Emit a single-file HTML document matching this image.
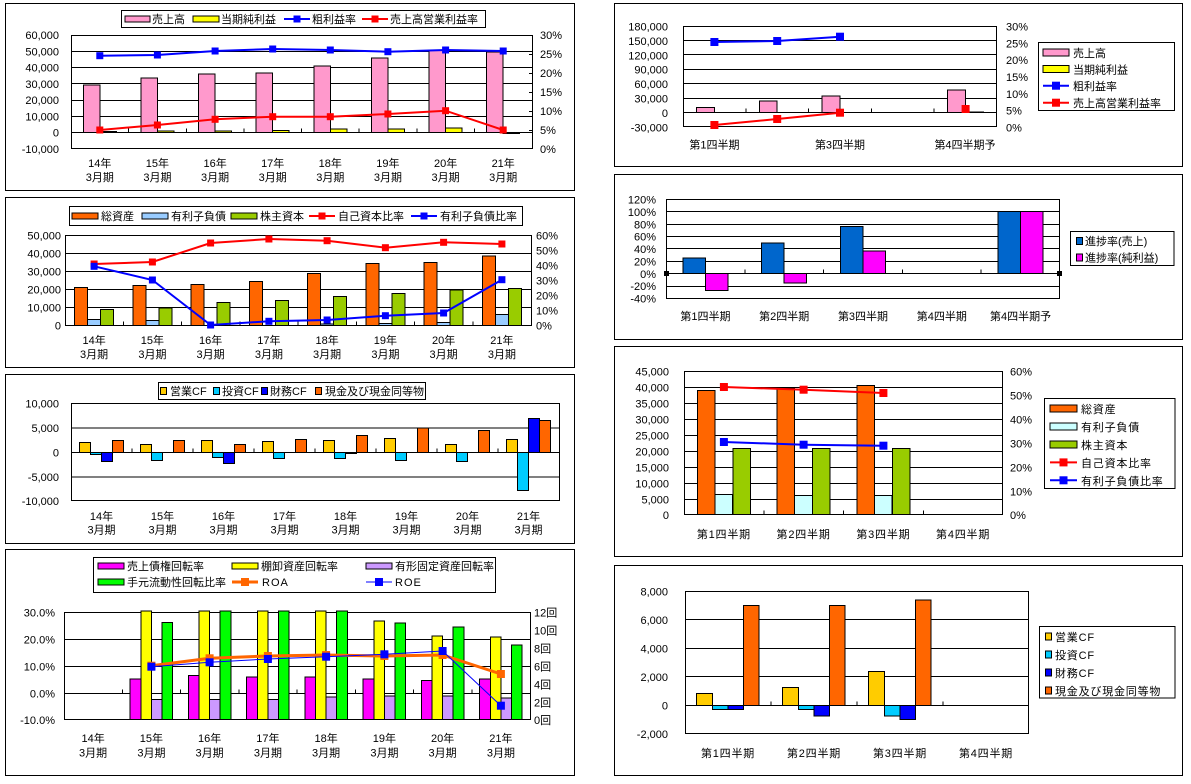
<!DOCTYPE html>
<html><head><meta charset="utf-8">
<style>
html,body{margin:0;padding:0;background:#fff;}
svg{display:block;}
text{font-family:"Liberation Sans","Noto Sans CJK JP",sans-serif;font-size:11px;fill:#000;}
.c{text-anchor:middle;}
.e{text-anchor:end;}
.f12{font-size:12px;}
.ls{letter-spacing:0.8px;}
.bars rect{stroke:#000;stroke-width:1;shape-rendering:crispEdges;}
.g{stroke:#000;stroke-width:1;fill:none;shape-rendering:crispEdges;}
.box{fill:#fff;stroke:#000;stroke-width:1;shape-rendering:crispEdges;}
.frame{fill:none;stroke:#000;stroke-width:1;shape-rendering:crispEdges;}
</style></head><body>
<svg width="1191" height="784" viewBox="0 0 1191 784" xmlns="http://www.w3.org/2000/svg">
<rect x="0" y="0" width="1191" height="784" fill="#fff"/>

<!-- ================= L1 ================= -->
<rect class="frame" x="5.5" y="3.5" width="569" height="187"/>
<rect class="box" x="121.5" y="10.5" width="364" height="17"/>
<g class="bars">
<rect x="125" y="16" width="25" height="6" fill="#FF99CC"/>
<rect x="193" y="16" width="26" height="6" fill="#FFFF00"/>
</g>
<text x="152" y="23">売上高</text>
<text x="221" y="23">当期純利益</text>
<line x1="284" y1="19" x2="310" y2="19" stroke="#0000FF" stroke-width="2"/>
<rect x="293.5" y="15.5" width="7" height="7" fill="#0000FF"/>
<text x="312" y="23">粗利益率</text>
<line x1="362" y1="19" x2="388" y2="19" stroke="#FF0000" stroke-width="2"/>
<rect x="371.5" y="15.5" width="7" height="7" fill="#FF0000"/>
<text x="390" y="23">売上高営業利益率</text>

<rect class="box" x="71.5" y="35.5" width="461" height="113"/>
<path class="g" d="M71 51.5H532M71 67.5H532M71 83.5H532M71 100.5H532M71 116.5H532M71 132.5H532"/>
<path class="g" d="M128.6 132.5V128.5M186.3 132.5V128.5M243.9 132.5V128.5M301.5 132.5V128.5M359.1 132.5V128.5M416.8 132.5V128.5M474.4 132.5V128.5M529 54.5H532M529 73.5H532M529 92.5H532M529 111.5H532M529 130.5H532"/>
<g class="bars" fill="#FF99CC">
<rect x="83.3" y="84.8" width="16.5" height="47.7"/>
<rect x="140.9" y="78.1" width="16.5" height="54.4"/>
<rect x="198.6" y="74.2" width="16.5" height="58.3"/>
<rect x="256.2" y="73.2" width="16.5" height="59.3"/>
<rect x="313.8" y="66.2" width="16.5" height="66.3"/>
<rect x="371.4" y="58.2" width="16.5" height="74.3"/>
<rect x="429.1" y="49.9" width="16.5" height="82.6"/>
<rect x="486.7" y="52.2" width="16.5" height="80.3"/>
</g>
<g class="bars" fill="#FFFF00">
<rect x="99.8" y="131.5" width="16.5" height="1"/>
<rect x="157.4" y="131.2" width="16.5" height="1.3"/>
<rect x="215.1" y="131.2" width="16.5" height="1.3"/>
<rect x="272.7" y="130.5" width="16.5" height="2"/>
<rect x="330.3" y="129.2" width="16.5" height="3.3"/>
<rect x="387.9" y="129.2" width="16.5" height="3.3"/>
<rect x="445.6" y="128" width="16.5" height="4.5"/>
<rect x="503.2" y="132.5" width="16.5" height="1"/>
</g>
<polyline fill="none" stroke="#0000FF" stroke-width="2" points="99.8,55.7 157.4,55 215.1,51 272.7,49 330.3,50 387.9,51.7 445.6,50 503.2,51"/>
<g fill="#0000FF">
<rect x="96.3" y="52.2" width="7" height="7"/><rect x="153.9" y="51.5" width="7" height="7"/><rect x="211.6" y="47.5" width="7" height="7"/><rect x="269.2" y="45.5" width="7" height="7"/><rect x="326.8" y="46.5" width="7" height="7"/><rect x="384.4" y="48.2" width="7" height="7"/><rect x="442.1" y="46.5" width="7" height="7"/><rect x="499.7" y="47.5" width="7" height="7"/>
</g>
<polyline fill="none" stroke="#FF0000" stroke-width="2" points="99.8,130 157.4,125 215.1,119.3 272.7,116.7 330.3,116.7 387.9,114 445.6,110.7 503.2,130"/>
<g fill="#FF0000">
<rect x="96.3" y="126.5" width="7" height="7"/><rect x="153.9" y="121.5" width="7" height="7"/><rect x="211.6" y="115.8" width="7" height="7"/><rect x="269.2" y="113.2" width="7" height="7"/><rect x="326.8" y="113.2" width="7" height="7"/><rect x="384.4" y="110.5" width="7" height="7"/><rect x="442.1" y="107.2" width="7" height="7"/><rect x="499.7" y="126.5" width="7" height="7"/>
</g>
<g class="e">
<text x="59" y="39">60,000</text><text x="59" y="55.5">50,000</text><text x="59" y="71.5">40,000</text><text x="59" y="88">30,000</text><text x="59" y="104">20,000</text><text x="59" y="120.5">10,000</text><text x="59" y="136.5">0</text><text x="59" y="153">-10,000</text>
</g>
<text x="540" y="39">30%</text><text x="540" y="58">25%</text><text x="540" y="77">20%</text><text x="540" y="96">15%</text><text x="540" y="115">10%</text><text x="540" y="134">5%</text><text x="540" y="153">0%</text>
<g class="c">
<text x="99.8" y="167">14年</text><text x="157.4" y="167">15年</text><text x="215.1" y="167">16年</text><text x="272.7" y="167">17年</text><text x="330.3" y="167">18年</text><text x="387.9" y="167">19年</text><text x="445.6" y="167">20年</text><text x="503.2" y="167">21年</text>
<text x="99.8" y="181">3月期</text><text x="157.4" y="181">3月期</text><text x="215.1" y="181">3月期</text><text x="272.7" y="181">3月期</text><text x="330.3" y="181">3月期</text><text x="387.9" y="181">3月期</text><text x="445.6" y="181">3月期</text><text x="503.2" y="181">3月期</text>
</g>

<!-- ================= L2 ================= -->
<rect class="frame" x="5.5" y="197.5" width="569" height="170"/>
<rect class="box" x="69.5" y="206.5" width="453" height="19"/>
<g class="bars">
<rect x="72" y="213" width="26" height="6" fill="#FF6600"/>
<rect x="142" y="213" width="26" height="6" fill="#99CCFF"/>
<rect x="231" y="213" width="26" height="6" fill="#99CC00"/>
</g>
<text x="101" y="220">総資産</text>
<text x="171" y="220">有利子負債</text>
<text x="260" y="220">株主資本</text>
<line x1="309" y1="216" x2="335" y2="216" stroke="#FF0000" stroke-width="2"/>
<rect x="318.5" y="212.5" width="7" height="7" fill="#FF0000"/>
<text x="338" y="220">自己資本比率</text>
<line x1="411" y1="216" x2="437" y2="216" stroke="#0000FF" stroke-width="2"/>
<rect x="420.5" y="212.5" width="7" height="7" fill="#0000FF"/>
<text x="440" y="220">有利子負債比率</text>

<rect class="box" x="65.5" y="235.5" width="466" height="90"/>
<path class="g" d="M65 253.5H531M65 271.5H531M65 289.5H531M65 307.5H531M65 325.5H531"/>
<path class="g" d="M123.3 325.5V321.5M181.5 325.5V321.5M239.8 325.5V321.5M298 325.5V321.5M356.3 325.5V321.5M414.5 325.5V321.5M472.8 325.5V321.5"/>
<g class="bars" fill="#FF6600">
<rect x="74.7" y="287.5" width="12.9" height="38"/>
<rect x="133" y="285.5" width="12.9" height="40"/>
<rect x="191.2" y="284.3" width="12.9" height="41.2"/>
<rect x="249.5" y="281.6" width="12.9" height="43.9"/>
<rect x="307.7" y="273.3" width="12.9" height="52.2"/>
<rect x="366" y="263.6" width="12.9" height="61.9"/>
<rect x="424.2" y="262.5" width="12.9" height="63"/>
<rect x="482.5" y="256.2" width="12.9" height="69.3"/>
</g>
<g class="bars" fill="#99CCFF">
<rect x="87.6" y="319.6" width="12.9" height="5.9"/>
<rect x="145.9" y="320.3" width="12.9" height="5.2"/>
<rect x="320.6" y="324.2" width="12.9" height="1.3"/>
<rect x="378.9" y="323.7" width="12.9" height="1.8"/>
<rect x="437.1" y="322.6" width="12.9" height="2.9"/>
<rect x="495.4" y="314.5" width="12.9" height="11"/>
</g>
<g class="bars" fill="#99CC00">
<rect x="100.6" y="309.5" width="12.9" height="16"/>
<rect x="158.9" y="308.2" width="12.9" height="17.3"/>
<rect x="217.1" y="302.3" width="12.9" height="23.2"/>
<rect x="275.4" y="300.3" width="12.9" height="25.2"/>
<rect x="333.6" y="296.5" width="12.9" height="29"/>
<rect x="391.9" y="293.3" width="12.9" height="32.2"/>
<rect x="450.1" y="290.2" width="12.9" height="35.3"/>
<rect x="508.4" y="288.6" width="12.9" height="36.9"/>
</g>
<polyline fill="none" stroke="#FF0000" stroke-width="2" points="94.1,264 152.4,262 210.6,243 268.9,239 327.1,240.7 385.4,247.7 443.6,242.3 501.9,244"/>
<g fill="#FF0000">
<rect x="90.6" y="260.5" width="7" height="7"/><rect x="148.9" y="258.5" width="7" height="7"/><rect x="207.1" y="239.5" width="7" height="7"/><rect x="265.4" y="235.5" width="7" height="7"/><rect x="323.6" y="237.2" width="7" height="7"/><rect x="381.9" y="244.2" width="7" height="7"/><rect x="440.1" y="238.8" width="7" height="7"/><rect x="498.4" y="240.5" width="7" height="7"/>
</g>
<polyline fill="none" stroke="#0000FF" stroke-width="2" points="94.1,266.3 152.4,280 210.6,325 268.9,321.3 327.1,320 385.4,315.7 443.6,313 501.9,279.7"/>
<g fill="#0000FF">
<rect x="90.6" y="262.8" width="7" height="7"/><rect x="148.9" y="276.5" width="7" height="7"/><rect x="207.1" y="321.5" width="7" height="7"/><rect x="265.4" y="317.8" width="7" height="7"/><rect x="323.6" y="316.5" width="7" height="7"/><rect x="381.9" y="312.2" width="7" height="7"/><rect x="440.1" y="309.5" width="7" height="7"/><rect x="498.4" y="276.2" width="7" height="7"/>
</g>
<g class="e">
<text x="61" y="239.5">50,000</text><text x="61" y="257.5">40,000</text><text x="61" y="275.5">30,000</text><text x="61" y="293.5">20,000</text><text x="61" y="311.5">10,000</text><text x="61" y="329.5">0</text>
</g>
<text x="536" y="239.5">60%</text><text x="536" y="254.5">50%</text><text x="536" y="269.5">40%</text><text x="536" y="284.5">30%</text><text x="536" y="299.5">20%</text><text x="536" y="314.5">10%</text><text x="536" y="329.5">0%</text>
<g class="c">
<text x="94.1" y="344">14年</text><text x="152.4" y="344">15年</text><text x="210.6" y="344">16年</text><text x="268.9" y="344">17年</text><text x="327.1" y="344">18年</text><text x="385.4" y="344">19年</text><text x="443.6" y="344">20年</text><text x="501.9" y="344">21年</text>
<text x="94.1" y="358">3月期</text><text x="152.4" y="358">3月期</text><text x="210.6" y="358">3月期</text><text x="268.9" y="358">3月期</text><text x="327.1" y="358">3月期</text><text x="385.4" y="358">3月期</text><text x="443.6" y="358">3月期</text><text x="501.9" y="358">3月期</text>
</g>

<!-- ================= L3 ================= -->
<rect class="frame" x="5.5" y="374.5" width="569" height="169"/>
<rect class="box" x="158.5" y="382.5" width="267" height="17"/>
<g class="bars">
<rect x="160.5" y="387.5" width="6" height="7" fill="#FFCC00"/>
<rect x="213.5" y="387.5" width="6" height="7" fill="#00CCFF"/>
<rect x="261.5" y="387.5" width="6" height="7" fill="#0000FF"/>
<rect x="315.5" y="387.5" width="6" height="7" fill="#FF6600"/>
</g>
<text x="170" y="395">営業CF</text>
<text x="222" y="395">投資CF</text>
<text x="270" y="395">財務CF</text>
<text x="325" y="395">現金及び現金同等物</text>

<rect class="box" x="71.5" y="403.5" width="488" height="97"/>
<path class="g" d="M71 428H559M71 452.5H559M71 477H559"/>
<path class="g" d="M132 452.5V448.5M193 452.5V448.5M254 452.5V448.5M315 452.5V448.5M376 452.5V448.5M437 452.5V448.5M498 452.5V448.5"/>
<g class="bars" fill="#FFCC00">
<rect x="79.3" y="442.55" width="11.1" height="9.95"/>
<rect x="140.3" y="444.66" width="11.1" height="7.84"/>
<rect x="201.3" y="440.54" width="11.1" height="11.96"/>
<rect x="262.3" y="441.52" width="11.1" height="10.98"/>
<rect x="323.3" y="440.54" width="11.1" height="11.96"/>
<rect x="384.3" y="438.53" width="11.1" height="13.97"/>
<rect x="445.3" y="444.66" width="11.1" height="7.84"/>
<rect x="506.3" y="439.56" width="11.1" height="12.94"/>
</g>
<g class="bars" fill="#00CCFF">
<rect x="90.4" y="452.5" width="11.1" height="1.96"/>
<rect x="151.4" y="452.5" width="11.1" height="7.99"/>
<rect x="212.4" y="452.5" width="11.1" height="5"/>
<rect x="273.4" y="452.5" width="11.1" height="5.98"/>
<rect x="334.4" y="452.5" width="11.1" height="5.98"/>
<rect x="395.4" y="452.5" width="11.1" height="7.99"/>
<rect x="456.4" y="452.5" width="11.1" height="8.97"/>
<rect x="517.4" y="452.5" width="11.1" height="37.83"/>
</g>
<g class="bars" fill="#0000FF">
<rect x="101.5" y="452.5" width="11.1" height="8.97"/>
<rect x="223.5" y="452.5" width="11.1" height="10.98"/>
<rect x="345.5" y="452.5" width="11.1" height="1"/>
<rect x="528.5" y="418.69" width="11.1" height="33.81"/>
</g>
<g class="bars" fill="#FF6600">
<rect x="112.6" y="440.54" width="11.1" height="11.96"/>
<rect x="173.6" y="440.54" width="11.1" height="11.96"/>
<rect x="234.6" y="444.51" width="11.1" height="7.99"/>
<rect x="295.6" y="439.56" width="11.1" height="12.94"/>
<rect x="356.6" y="435.6" width="11.1" height="16.9"/>
<rect x="417.6" y="428.24" width="11.1" height="24.26"/>
<rect x="478.6" y="430.6" width="11.1" height="21.9"/>
<rect x="539.6" y="420.65" width="11.1" height="31.85"/>
</g>
<g class="e">
<text x="59" y="407.5">10,000</text><text x="59" y="432">5,000</text><text x="59" y="456.5">0</text><text x="59" y="481">-5,000</text><text x="59" y="505">-10,000</text>
</g>
<g class="c">
<text x="101.5" y="520">14年</text><text x="162.5" y="520">15年</text><text x="223.5" y="520">16年</text><text x="284.5" y="520">17年</text><text x="345.5" y="520">18年</text><text x="406.5" y="520">19年</text><text x="467.5" y="520">20年</text><text x="528.5" y="520">21年</text>
<text x="101.5" y="533.5">3月期</text><text x="162.5" y="533.5">3月期</text><text x="223.5" y="533.5">3月期</text><text x="284.5" y="533.5">3月期</text><text x="345.5" y="533.5">3月期</text><text x="406.5" y="533.5">3月期</text><text x="467.5" y="533.5">3月期</text><text x="528.5" y="533.5">3月期</text>
</g>

<!-- ================= L4 ================= -->
<rect class="frame" x="5.5" y="549.5" width="569" height="226"/>
<rect class="box" x="93.5" y="557.5" width="402" height="35"/>
<g class="bars">
<rect x="98" y="563" width="26" height="6" fill="#FF00FF"/>
<rect x="232" y="563" width="26" height="6" fill="#FFFF00"/>
<rect x="366" y="563" width="26" height="6" fill="#CC99FF"/>
<rect x="98" y="579" width="26" height="6" fill="#00FF00"/>
</g>
<text x="127" y="570">売上債権回転率</text>
<text x="261" y="570">棚卸資産回転率</text>
<text x="395" y="570">有形固定資産回転率</text>
<text x="127" y="586">手元流動性回転比率</text>
<line x1="232" y1="582" x2="258" y2="582" stroke="#FF6600" stroke-width="3"/>
<rect x="241" y="578" width="8" height="8" fill="#FF6600"/>
<text x="262" y="586" letter-spacing="1">ROA</text>
<line x1="366" y1="582" x2="392" y2="582" stroke="#0000FF" stroke-width="1"/>
<rect x="375" y="578" width="8" height="8" fill="#0000FF"/>
<text x="395" y="586" letter-spacing="1">ROE</text>

<rect class="box" x="64.5" y="612.5" width="466" height="107"/>
<path class="g" d="M64 639.5H530M64 666.5H530M64 693.5H530"/>
<path class="g" d="M122.3 693.5V689.5M180.5 693.5V689.5M238.8 693.5V689.5M297 693.5V689.5M355.3 693.5V689.5M413.5 693.5V689.5M471.8 693.5V689.5"/>
<g class="bars" fill="#FF00FF">
<rect x="130.2" y="679" width="10.6" height="40.5"/>
<rect x="188.4" y="675.7" width="10.6" height="43.8"/>
<rect x="246.7" y="676.9" width="10.6" height="42.6"/>
<rect x="304.9" y="676.9" width="10.6" height="42.6"/>
<rect x="363.2" y="679" width="10.6" height="40.5"/>
<rect x="421.4" y="680.6" width="10.6" height="38.9"/>
<rect x="479.7" y="679" width="10.6" height="40.5"/>
</g>
<g class="bars" fill="#FFFF00">
<rect x="140.8" y="611" width="10.6" height="108.5"/>
<rect x="199" y="611" width="10.6" height="108.5"/>
<rect x="257.3" y="611" width="10.6" height="108.5"/>
<rect x="315.5" y="611" width="10.6" height="108.5"/>
<rect x="373.8" y="620.9" width="10.6" height="98.6"/>
<rect x="432" y="635.8" width="10.6" height="83.7"/>
<rect x="490.3" y="637.1" width="10.6" height="82.4"/>
</g>
<g class="bars" fill="#CC99FF">
<rect x="151.4" y="699.7" width="10.6" height="19.8"/>
<rect x="209.6" y="699.7" width="10.6" height="19.8"/>
<rect x="267.9" y="699.7" width="10.6" height="19.8"/>
<rect x="326.1" y="697" width="10.6" height="22.5"/>
<rect x="384.4" y="696.1" width="10.6" height="23.4"/>
<rect x="442.6" y="696.1" width="10.6" height="23.4"/>
<rect x="500.9" y="697.9" width="10.6" height="21.6"/>
</g>
<g class="bars" fill="#00FF00">
<rect x="162" y="622.3" width="10.6" height="97.2"/>
<rect x="220.2" y="611" width="10.6" height="108.5"/>
<rect x="278.5" y="611" width="10.6" height="108.5"/>
<rect x="336.7" y="611" width="10.6" height="108.5"/>
<rect x="395" y="623.2" width="10.6" height="96.3"/>
<rect x="453.2" y="627.2" width="10.6" height="92.3"/>
<rect x="511.5" y="644.8" width="10.6" height="74.7"/>
</g>
<polyline fill="none" stroke="#FF6600" stroke-width="3" points="151.4,665.7 209.6,658.3 267.9,656 326.1,655 384.4,656 442.6,655 500.9,674"/>
<g fill="#FF6600">
<rect x="147.4" y="661.7" width="8" height="8"/><rect x="205.6" y="654.3" width="8" height="8"/><rect x="263.9" y="652" width="8" height="8"/><rect x="322.1" y="651" width="8" height="8"/><rect x="380.4" y="652" width="8" height="8"/><rect x="438.6" y="651" width="8" height="8"/><rect x="496.9" y="670" width="8" height="8"/>
</g>
<polyline fill="none" stroke="#0000FF" stroke-width="1" points="151.4,666.7 209.6,662.3 267.9,659 326.1,656.7 384.4,654.3 442.6,651 500.9,705.7"/>
<g fill="#0000FF">
<rect x="147.4" y="662.7" width="8" height="8"/><rect x="205.6" y="658.3" width="8" height="8"/><rect x="263.9" y="655" width="8" height="8"/><rect x="322.1" y="652.7" width="8" height="8"/><rect x="380.4" y="650.3" width="8" height="8"/><rect x="438.6" y="647" width="8" height="8"/><rect x="496.9" y="701.7" width="8" height="8"/>
</g>
<g class="e">
<text x="55" y="616.5">30.0%</text><text x="55" y="643.5">20.0%</text><text x="55" y="670.5">10.0%</text><text x="55" y="697.5">0.0%</text><text x="55" y="724">-10.0%</text>
</g>
<text x="534" y="616.5">12回</text><text x="534" y="634.5">10回</text><text x="534" y="652.5">8回</text><text x="534" y="670.5">6回</text><text x="534" y="688.5">4回</text><text x="534" y="706.5">2回</text><text x="534" y="724">0回</text>
<g class="c f12">
<text x="93.1" y="742">14年</text><text x="151.4" y="742">15年</text><text x="209.6" y="742">16年</text><text x="267.9" y="742">17年</text><text x="326.1" y="742">18年</text><text x="384.4" y="742">19年</text><text x="442.6" y="742">20年</text><text x="500.9" y="742">21年</text>
<text x="93.1" y="756.5">3月期</text><text x="151.4" y="756.5">3月期</text><text x="209.6" y="756.5">3月期</text><text x="267.9" y="756.5">3月期</text><text x="326.1" y="756.5">3月期</text><text x="384.4" y="756.5">3月期</text><text x="442.6" y="756.5">3月期</text><text x="500.9" y="756.5">3月期</text>
</g>

<!-- ================= R1 ================= -->
<rect class="frame" x="614.5" y="3.5" width="568" height="163"/>
<rect class="box" x="683.5" y="26.5" width="313" height="100"/>
<path class="g" d="M683 40.5H996M683 54.5H996M683 69.5H996M683 83.5H996M683 98.5H996M683 112.5H996"/>
<path class="g" d="M745.8 112.5V108.5M808.6 112.5V108.5M871.4 112.5V108.5M934.2 112.5V108.5"/>
<g class="bars" fill="#FF99CC">
<rect x="696.5" y="107.5" width="17.9" height="5"/>
<rect x="759.3" y="101.2" width="17.9" height="11.3"/>
<rect x="822.1" y="95.9" width="17.9" height="16.6"/>
<rect x="947.7" y="90.1" width="17.9" height="22.4"/>
</g>
<g class="bars" fill="#FFFF00">
<rect x="965.6" y="112" width="17.9" height="0.5"/>
</g>
<polyline fill="none" stroke="#0000FF" stroke-width="2" points="714.4,42 777.2,41 840,36.7"/>
<g fill="#0000FF">
<rect x="710.4" y="38" width="8" height="8"/><rect x="773.2" y="37" width="8" height="8"/><rect x="836" y="32.7" width="8" height="8"/>
</g>
<polyline fill="none" stroke="#FF0000" stroke-width="2" points="714.4,125 777.2,119 840,112.7"/>
<g fill="#FF0000">
<rect x="710.4" y="121" width="8" height="8"/><rect x="773.2" y="115" width="8" height="8"/><rect x="836" y="108.7" width="8" height="8"/><rect x="961.6" y="105" width="8" height="8"/>
</g>
<g class="e">
<text x="668" y="30.5">180,000</text><text x="668" y="44.9">150,000</text><text x="668" y="59.3">120,000</text><text x="668" y="73.7">90,000</text><text x="668" y="88.1">60,000</text><text x="668" y="102.5">30,000</text><text x="668" y="116.9">0</text><text x="668" y="131.3">-30,000</text>
</g>
<text x="1006" y="30.5">30%</text><text x="1006" y="47.3">25%</text><text x="1006" y="64.2">20%</text><text x="1006" y="81">15%</text><text x="1006" y="97.8">10%</text><text x="1006" y="114.7">5%</text><text x="1006" y="131.3">0%</text>
<g class="c f12">
<text x="714.4" y="148.5">第1四半期</text><text x="840" y="148.5">第3四半期</text><text x="965" y="148.5">第4四半期予</text>
</g>
<rect class="box" x="1038.5" y="42.5" width="136" height="68"/>
<g class="bars">
<rect x="1043" y="49" width="26" height="7" fill="#FF99CC"/>
<rect x="1043" y="65.5" width="26" height="7" fill="#FFFF00"/>
</g>
<line x1="1043" y1="85.7" x2="1069" y2="85.7" stroke="#0000FF" stroke-width="2"/>
<rect x="1052" y="81.7" width="8" height="8" fill="#0000FF"/>
<line x1="1043" y1="102.7" x2="1069" y2="102.7" stroke="#FF0000" stroke-width="2"/>
<rect x="1052" y="98.7" width="8" height="8" fill="#FF0000"/>
<g class="f12">
<text x="1073" y="56.8">売上高</text><text x="1073" y="73.5">当期純利益</text><text x="1073" y="90.2">粗利益率</text><text x="1073" y="107.2">売上高営業利益率</text>
</g>

<!-- ================= R2 ================= -->
<rect class="frame" x="614.5" y="174.5" width="568" height="165"/>
<rect class="box" x="666.5" y="199.5" width="393" height="99"/>
<path class="g" d="M666 211.5H1059M666 224.5H1059M666 236.5H1059M666 248.5H1059M666 261.5H1059M666 273.5H1059M666 286.5H1059"/>
<path class="g" d="M744.8 273.5V269.5M823.6 273.5V269.5M902.4 273.5V269.5M981.2 273.5V269.5"/>
<rect x="664" y="271" width="5" height="5" fill="#000"/>
<rect x="1057" y="271" width="5" height="5" fill="#000"/>
<g class="bars" fill="#0066CC">
<rect x="682.9" y="258.15" width="22.5" height="15.35"/>
<rect x="761.7" y="243.18" width="22.5" height="30.32"/>
<rect x="840.5" y="226.6" width="22.5" height="46.9"/>
<rect x="998.1" y="211.62" width="22.5" height="61.88"/>
</g>
<g class="bars" fill="#FF00FF">
<rect x="705.4" y="273.5" width="22.5" height="16.95"/>
<rect x="784.2" y="273.5" width="22.5" height="9.59"/>
<rect x="863" y="250.85" width="22.5" height="22.65"/>
<rect x="1020.6" y="211.62" width="22.5" height="61.88"/>
</g>
<g class="e">
<text x="656" y="203.5">120%</text><text x="656" y="215.9">100%</text><text x="656" y="228.3">80%</text><text x="656" y="240.6">60%</text><text x="656" y="253">40%</text><text x="656" y="265.4">20%</text><text x="656" y="277.8">0%</text><text x="656" y="290.1">-20%</text><text x="656" y="302.5">-40%</text>
</g>
<g class="c f12">
<text x="705.4" y="320">第1四半期</text><text x="784.2" y="320">第2四半期</text><text x="863" y="320">第3四半期</text><text x="941.8" y="320">第4四半期</text><text x="1020.6" y="320">第4四半期予</text>
</g>
<rect class="box" x="1070.5" y="231.5" width="103.5" height="34"/>
<g class="bars">
<rect x="1076.5" y="237.5" width="6" height="7" fill="#0066CC"/>
<rect x="1076.5" y="254" width="6" height="7" fill="#FF00FF"/>
</g>
<g class="f12">
<text x="1085" y="245">進捗率(売上)</text><text x="1085" y="261.5">進捗率(純利益)</text>
</g>

<!-- ================= R3 ================= -->
<rect class="frame" x="614.5" y="346.5" width="568" height="210"/>
<rect class="box" x="684.5" y="371.5" width="318" height="143"/>
<path class="g" d="M684 387.5H1002M684 403.5H1002M684 419.5H1002M684 435.5H1002M684 451.5H1002M684 467.5H1002M684 483.5H1002M684 499.5H1002"/>
<path class="g" d="M763.8 514.5V510.5M843.5 514.5V510.5M923.3 514.5V510.5"/>
<g class="bars" fill="#FF6600">
<rect x="697.3" y="390.5" width="17.7" height="124"/>
<rect x="777" y="387.9" width="17.7" height="126.6"/>
<rect x="856.8" y="385.5" width="17.7" height="129"/>
</g>
<g class="bars" fill="#CCFFFF">
<rect x="715" y="494.5" width="17.7" height="20"/>
<rect x="794.7" y="495.6" width="17.7" height="18.9"/>
<rect x="874.5" y="495.6" width="17.7" height="18.9"/>
</g>
<g class="bars" fill="#99CC00">
<rect x="732.8" y="448.3" width="17.7" height="66.2"/>
<rect x="812.5" y="448.3" width="17.7" height="66.2"/>
<rect x="892.3" y="448.3" width="17.7" height="66.2"/>
</g>
<polyline fill="none" stroke="#FF0000" stroke-width="2" points="723.9,387 803.6,389.7 883.4,393"/>
<g fill="#FF0000">
<rect x="719.9" y="383" width="8" height="8"/><rect x="799.6" y="385.7" width="8" height="8"/><rect x="879.4" y="389" width="8" height="8"/>
</g>
<polyline fill="none" stroke="#0000FF" stroke-width="2" points="723.9,442 803.6,444.7 883.4,445.7"/>
<g fill="#0000FF">
<rect x="719.9" y="438" width="8" height="8"/><rect x="799.6" y="440.7" width="8" height="8"/><rect x="879.4" y="441.7" width="8" height="8"/>
</g>
<g class="e f12">
<text x="669" y="375.5">45,000</text><text x="669" y="391.5">40,000</text><text x="669" y="407.5">35,000</text><text x="669" y="423.5">30,000</text><text x="669" y="439.5">25,000</text><text x="669" y="455.5">20,000</text><text x="669" y="471.5">15,000</text><text x="669" y="487.5">10,000</text><text x="669" y="503.5">5,000</text><text x="669" y="519">0</text>
</g>
<g class="f12">
<text x="1010" y="375.5">60%</text><text x="1010" y="399.5">50%</text><text x="1010" y="423.5">40%</text><text x="1010" y="447.5">30%</text><text x="1010" y="471.5">20%</text><text x="1010" y="495.5">10%</text><text x="1010" y="519">0%</text>
</g>
<g class="c f12 ls">
<text x="723.9" y="538">第1四半期</text><text x="803.6" y="538">第2四半期</text><text x="883.4" y="538">第3四半期</text><text x="963.1" y="538">第4四半期</text>
</g>
<rect class="box" x="1044.5" y="398.5" width="130.5" height="90"/>
<g class="bars">
<rect x="1050" y="405.2" width="27" height="7" fill="#FF6600"/>
<rect x="1050" y="423.1" width="27" height="7" fill="#CCFFFF"/>
<rect x="1050" y="441" width="27" height="7" fill="#99CC00"/>
</g>
<line x1="1050" y1="462.4" x2="1077" y2="462.4" stroke="#FF0000" stroke-width="2"/>
<rect x="1059.5" y="458.4" width="8" height="8" fill="#FF0000"/>
<line x1="1050" y1="480.3" x2="1077" y2="480.3" stroke="#0000FF" stroke-width="2"/>
<rect x="1059.5" y="476.3" width="8" height="8" fill="#0000FF"/>
<g class="f12 ls">
<text x="1081" y="413.2">総資産</text><text x="1081" y="431.1">有利子負債</text><text x="1081" y="449">株主資本</text><text x="1081" y="466.9">自己資本比率</text><text x="1081" y="484.8">有利子負債比率</text>
</g>

<!-- ================= R4 ================= -->
<rect class="frame" x="614.5" y="565.5" width="568" height="210"/>
<rect class="box" x="685.5" y="591.5" width="343" height="142"/>
<path class="g" d="M685 619.5H1028M685 648.5H1028M685 676.5H1028M685 705.5H1028"/>
<path class="g" d="M771 705.5V701.5M857 705.5V701.5M943 705.5V701.5"/>
<g class="bars" fill="#FFCC00">
<rect x="696.7" y="693.55" width="15.6" height="11.95"/>
<rect x="782.7" y="687.62" width="15.6" height="17.88"/>
<rect x="868.7" y="671.32" width="15.6" height="34.18"/>
</g>
<g class="bars" fill="#00CCFF">
<rect x="712.4" y="705.5" width="15.6" height="4"/>
<rect x="798.4" y="705.5" width="15.6" height="4"/>
<rect x="884.4" y="705.5" width="15.6" height="10.37"/>
</g>
<g class="bars" fill="#0000FF">
<rect x="728" y="705.5" width="15.6" height="4"/>
<rect x="814" y="705.5" width="15.6" height="10.37"/>
<rect x="900" y="705.5" width="15.6" height="13.94"/>
</g>
<g class="bars" fill="#FF6600">
<rect x="743.6" y="605.54" width="15.6" height="99.96"/>
<rect x="829.6" y="605.54" width="15.6" height="99.96"/>
<rect x="915.6" y="599.82" width="15.6" height="105.68"/>
</g>
<g class="e f12">
<text x="668" y="595.5">8,000</text><text x="668" y="624">6,000</text><text x="668" y="652.5">4,000</text><text x="668" y="681">2,000</text><text x="668" y="709.5">0</text><text x="668" y="738">-2,000</text>
</g>
<g class="c f12 ls">
<text x="728" y="757">第1四半期</text><text x="814" y="757">第2四半期</text><text x="900" y="757">第3四半期</text><text x="986" y="757">第4四半期</text>
</g>
<rect class="box" x="1039.5" y="626.5" width="135.5" height="71.5"/>
<g class="bars">
<rect x="1045.5" y="633.2" width="6" height="7" fill="#FFCC00"/>
<rect x="1045.5" y="651.1" width="6" height="7" fill="#00CCFF"/>
<rect x="1045.5" y="669" width="6" height="7" fill="#0000FF"/>
<rect x="1045.5" y="686.9" width="6" height="7" fill="#FF6600"/>
</g>
<g class="f12 ls">
<text x="1055" y="641.2">営業CF</text><text x="1055" y="659.1">投資CF</text><text x="1055" y="677">財務CF</text><text x="1055" y="694.9">現金及び現金同等物</text>
</g>
</svg>
</body></html>
